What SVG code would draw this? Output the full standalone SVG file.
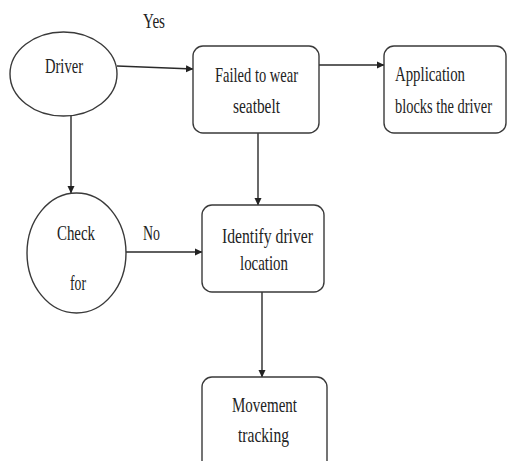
<svg xmlns="http://www.w3.org/2000/svg" width="507" height="461" viewBox="0 0 507 461">
<style>
.n{fill:#fff;stroke:#3a3a3a;stroke-width:1.4}
.c{fill:none;stroke:#2a2a2a;stroke-width:1.4}
.t{font-family:"Liberation Serif","Times New Roman",serif;font-size:22px;fill:#222}
</style>
<defs>
<marker id="ah" markerWidth="8" markerHeight="8" refX="7" refY="4" orient="auto" markerUnits="userSpaceOnUse">
<path d="M0,0.5 L7.5,4 L0,7.5 z" fill="#222"/>
</marker>
</defs>
<rect width="507" height="461" fill="#fff"/>
<g id="connectors">
<line class="c" x1="117" y1="66" x2="193" y2="69" marker-end="url(#ah)"/>
<line class="c" x1="319" y1="65" x2="384" y2="65" marker-end="url(#ah)"/>
<line class="c" x1="71" y1="116" x2="71" y2="193" marker-end="url(#ah)"/>
<line class="c" x1="258" y1="133" x2="258" y2="205" marker-end="url(#ah)"/>
<line class="c" x1="126" y1="252" x2="202" y2="252" marker-end="url(#ah)"/>
<line class="c" x1="262" y1="292" x2="262" y2="377" marker-end="url(#ah)"/>
<text class="t" x="143" y="28" textLength="22" lengthAdjust="spacingAndGlyphs">Yes</text>
<text class="t" x="143" y="240" textLength="17" lengthAdjust="spacingAndGlyphs">No</text>
</g>
<g id="driver">
<ellipse class="n" cx="63.5" cy="74" rx="53.5" ry="42"/>
<text class="t" x="45" y="73" textLength="38" lengthAdjust="spacingAndGlyphs">Driver</text>
</g>
<g id="failed">
<rect class="n" x="193" y="46" width="126" height="87" rx="10"/>
<text class="t" x="215" y="82" textLength="83" lengthAdjust="spacingAndGlyphs">Failed to wear</text>
<text class="t" x="233" y="113" textLength="47" lengthAdjust="spacingAndGlyphs">seatbelt</text>
</g>
<g id="application">
<rect class="n" x="384" y="46" width="122" height="87" rx="10"/>
<text class="t" x="395" y="81" textLength="70" lengthAdjust="spacingAndGlyphs">Application</text>
<text class="t" x="395" y="113" textLength="97" lengthAdjust="spacingAndGlyphs">blocks the driver</text>
</g>
<g id="check">
<ellipse class="n" cx="76.5" cy="253" rx="49.5" ry="60"/>
<text class="t" x="57" y="240" textLength="38" lengthAdjust="spacingAndGlyphs">Check</text>
<text class="t" x="70" y="290" textLength="16" lengthAdjust="spacingAndGlyphs">for</text>
</g>
<g id="identify">
<rect class="n" x="202" y="205" width="122" height="87" rx="10"/>
<text class="t" x="222" y="243" textLength="91" lengthAdjust="spacingAndGlyphs">Identify driver</text>
<text class="t" x="240" y="270" textLength="48" lengthAdjust="spacingAndGlyphs">location</text>
</g>
<g id="movement">
<rect class="n" x="202" y="377" width="125" height="100" rx="10"/>
<text class="t" x="232" y="412" textLength="65" lengthAdjust="spacingAndGlyphs">Movement</text>
<text class="t" x="238" y="442" textLength="51" lengthAdjust="spacingAndGlyphs">tracking</text>
</g>
</svg>
